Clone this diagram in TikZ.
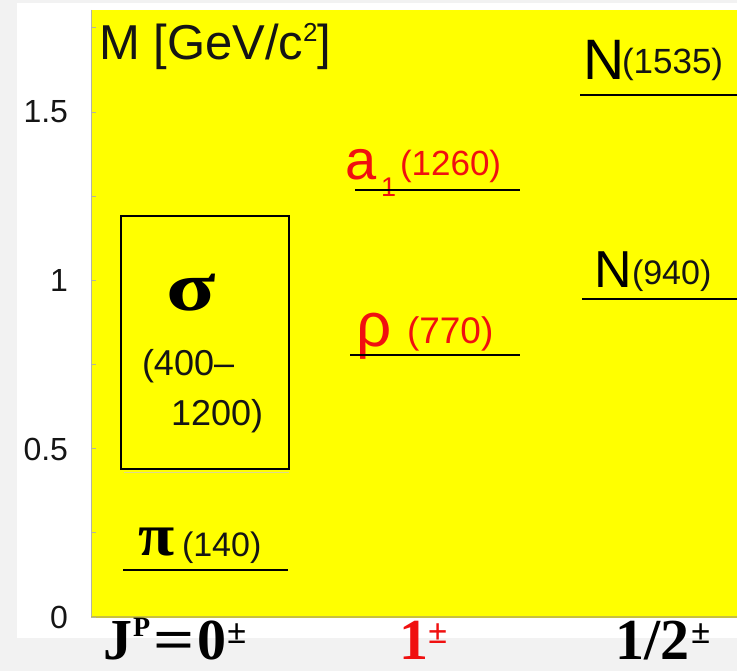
\documentclass[tikz,border=0pt]{standalone}
\usepackage{fontspec}
\setmainfont{Liberation Sans}
\newfontfamily\serifb{Liberation Serif}
\newcommand\fsz[1]{\fontsize{#1}{#1}\selectfont}
\definecolor{ylw}{HTML}{FFFF00}
\definecolor{bggray}{HTML}{F2F2F2}
\definecolor{axisgray}{HTML}{B4B4A0}
\definecolor{axisolive}{HTML}{C8C040}
\definecolor{lred}{HTML}{F01010}
\definecolor{txtgray}{HTML}{151515}
\begin{document}
\begin{tikzpicture}[x=1pt,y=-1pt,
  every node/.style={inner sep=0pt,outer sep=0pt},
  lbl/.style={anchor=base west,text=txtgray},
  ticklab/.style={anchor=east,text=txtgray,font=\fsz{32}},
  level/.style={line width=2.5pt,draw=black},
  bottomlab/.style={anchor=base west,font=\serifb\bfseries}]
\useasboundingbox (0,0) rectangle (737,671);
\fill[bggray] (0,0) rectangle (737,671);
\fill[white] (17,3) rectangle (737,638);
\fill[ylw] (91,10) rectangle (737,617);
\draw[axisgray,line width=1pt] (91,10) -- (91,617);
\draw[axisolive,line width=2pt] (91,617) -- (737,617);
\foreach \v in {0,0.25,0.5,0.75,1,1.25,1.5,1.75}
  \draw[axisgray,line width=0.8pt] (91,{617-336.7*\v}) -- ++(5,0);
% tick labels
\node[ticklab] (t15) at (68,112) {1.5};
\node[ticklab] (t10) at (68,280) {1};
\node[ticklab] (t05) at (68,449) {0.5};
\node[ticklab] (t00) at (68,617) {0};
% axis title
\node[lbl,font=\fsz{49}] (title) at (99,60) {M [GeV/c\raisebox{18pt}{\fsz{26}2}]};
% pion
\node[lbl,font=\serifb\bfseries\fsz{60},text=black] (pi) at (138,555) {\scalebox{1.1}[1]{π}};
\node[lbl,font=\fsz{34}] (pim) at (182,556) {(140)};
\coordinate (pil) at (123,570); \coordinate (pir) at (288,570);
\draw[level] (pil) -- (pir);
% sigma
\node[draw=black,line width=1.3pt,minimum width=168pt,minimum height=253pt,anchor=north west] (sbox) at (121,216) {};
\draw[color=axisolive!60,line width=1pt] ([xshift=3pt,yshift=-3pt]sbox.south west) -- ([yshift=-3pt]sbox.south east);
\node[lbl,font=\serifb\bfseries\fsz{70},text=black] (sigma) at (166,311) {\scalebox{1.3}[1]{σ}};
\node[lbl,font=\fsz{36}] (sm1) at (142,375) {(400–};
\node[lbl,font=\fsz{36}] (sm2) at (171,425) {1200)};
% rho
\node[lbl,font=\fsz{62},text=lred] (rho) at (356,347) {ρ};
\node[lbl,font=\fsz{37},text=lred] (rhom) at (407,344) {(770)};
\coordinate (rhol) at (350,355); \coordinate (rhor) at (520,355);
\draw[level] (rhol) -- (rhor);
% a1
\node[lbl,font=\fsz{56},text=lred] (a) at (345,180) {a};
\node[lbl,font=\fsz{27},text=lred] (asub) at (381,197) {1};
\node[lbl,font=\fsz{35},text=lred] (am) at (400,176) {(1260)};
\coordinate (a1l) at (355,190); \coordinate (a1r) at (520,190);
\draw[level] (a1l) -- (a1r);
% N(940)
\node[lbl,font=\fsz{52},text=black] (n1) at (594,288) {N};
\node[lbl,font=\fsz{34}] (n1m) at (632,285) {(940)};
\coordinate (n1l) at (582,299); \coordinate (n1r) at (737,299);
\draw[level] (n1l) -- (n1r);
% N(1535)
\node[lbl,font=\fsz{57},text=black] (n2) at (583,80) {N};
\node[lbl,font=\fsz{35}] (n2m) at (622,74) {(1535)};
\coordinate (n2l) at (580,95); \coordinate (n2r) at (737,95);
\draw[level] (n2l) -- (n2r);
% bottom labels
\node[bottomlab,font=\serifb\bfseries\fsz{58}] (jJ) at (103,659) {J};
\node[bottomlab,font=\serifb\bfseries\fsz{28}] (jP) at (133,636) {P};
\node[bottomlab,font=\serifb\bfseries\fsz{58}] (jeq) at (153,659) {\scalebox{1.25}[1]{=}};
\node[bottomlab,font=\serifb\bfseries\fsz{58}] (j0) at (197,659) {0};
\node[bottomlab,font=\serifb\bfseries\fsz{35}] (jpm) at (227,643) {±};
\node[bottomlab,font=\serifb\bfseries\fsz{58},text=lred] (one) at (399,659) {1};
\node[bottomlab,font=\serifb\bfseries\fsz{35},text=lred] (onepm) at (428,643) {±};
\node[bottomlab,font=\serifb\bfseries\fsz{58}] (half) at (615,659) {1/2};
\node[bottomlab,font=\serifb\bfseries\fsz{35}] (halfpm) at (691,643) {±};
\end{tikzpicture}
\end{document}
